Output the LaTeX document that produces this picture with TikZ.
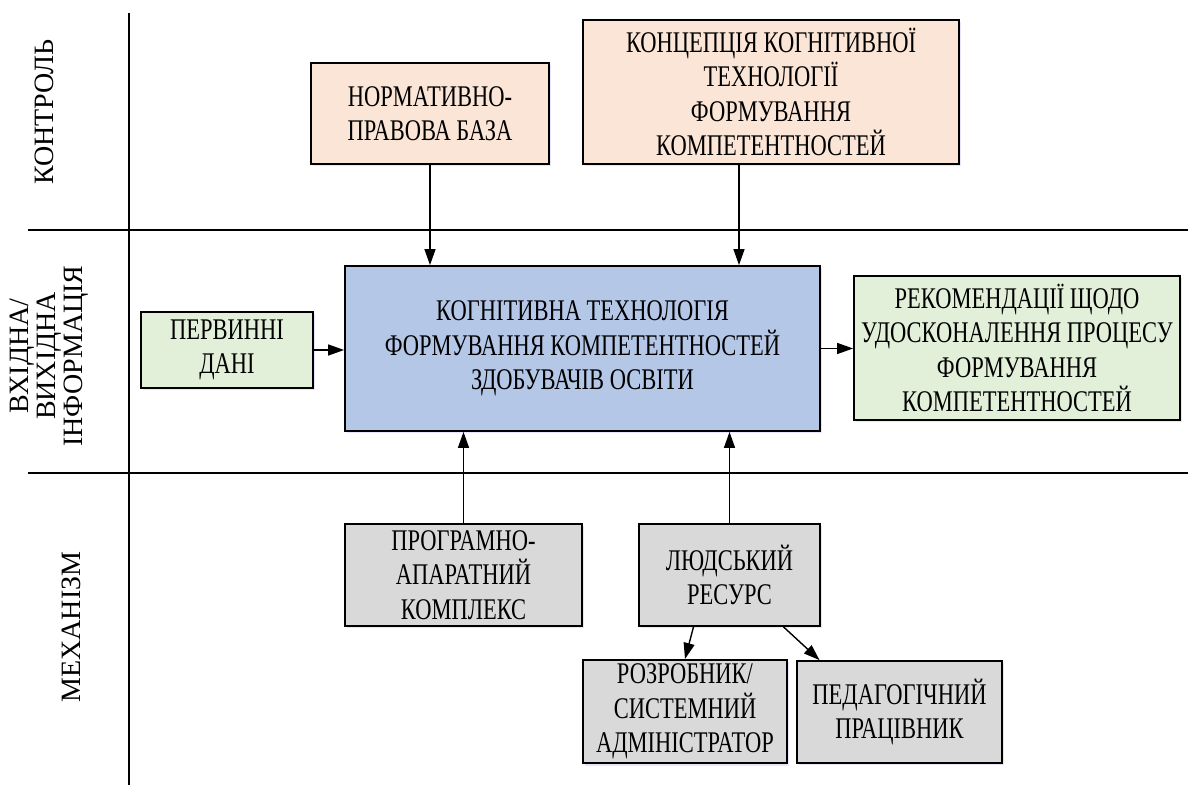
\documentclass[tikz,border=0pt]{standalone}
\usepackage{fontspec}
\setmainfont{Liberation Serif}
\newfontfamily\vuzkyj{Liberation Serif}[FakeStretch=0.75]
\usetikzlibrary{arrows.meta,shadows}
\definecolor{kontrol}{HTML}{FBE5D6}
\definecolor{vhidna}{HTML}{E2F0D9}
\definecolor{tehn}{HTML}{B4C7E7}
\definecolor{mehan}{HTML}{D9D9D9}
\tikzset{
	blok/.style={draw, line width=0.9pt, align=center, inner sep=2pt,
		font=\vuzkyj\fontsize{15}{17.25}\selectfont,
		drop shadow={shadow xshift=0.8pt, shadow yshift=-1.2pt, fill=blue!40, opacity=0.25}},
	strilka/.style={-{Triangle[length=8pt,width=5.5pt]}, line width=0.7pt},
	zona/.style={rotate=90, align=center, font=\fontsize{14}{13.5}\selectfont}
}
\begin{document}
\begin{tikzpicture}[x=0.5pt, y=-0.5pt]
						\useasboundingbox (0,0) rectangle (1188,785);
						\draw[line width=0.65pt] (129,13) -- (129,785);
						\draw[line width=0.65pt] (28,230) -- (1188,230);
						\draw[line width=0.65pt] (28,473) -- (1188,473);
						\node[zona] (zk) at (44,112) {КОНТРОЛЬ};
						\node[zona] (zv) at (49,356) {ВХІДНА/\\ВИХІДНА\\ІНФОРМАЦІЯ};
						\node[zona] (zm) at (71,627) {МЕХАНІЗМ};
						\node[blok, fill=kontrol, minimum width=119pt, minimum height=50.5pt] (norm) at (430,113.5) {НОРМАТИВНО-\\ПРАВОВА БАЗА};
						\node[blok, fill=kontrol, minimum width=188pt, minimum height=72pt] (konc) at (771,92) {КОНЦЕПЦІЯ КОГНІТИВНОЇ\\ТЕХНОЛОГІЇ\\ФОРМУВАННЯ\\КОМПЕТЕНТНОСТЕЙ};
						\node[blok, fill=tehn, minimum width=237.5pt, minimum height=82.5pt] (kt) at (582.5,348.5) {КОГНІТИВНА ТЕХНОЛОГІЯ\\ФОРМУВАННЯ КОМПЕТЕНТНОСТЕЙ\\ЗДОБУВАЧІВ ОСВІТИ};
						\node[blok, fill=vhidna, minimum width=86pt, minimum height=38pt] (pd) at (227,350) {ПЕРВИННІ\\ДАНІ};
						\node[blok, fill=vhidna, minimum width=163pt, minimum height=72pt] (rek) at (1017,348) {РЕКОМЕНДАЦІЇ ЩОДО\\УДОСКОНАЛЕННЯ ПРОЦЕСУ\\ФОРМУВАННЯ\\КОМПЕТЕНТНОСТЕЙ};
						\node[blok, fill=mehan, minimum width=118.5pt, minimum height=51pt] (pak) at (463.5,575) {ПРОГРАМНО-\\АПАРАТНИЙ\\КОМПЛЕКС};
						\node[blok, fill=mehan, minimum width=90.5pt, minimum height=51pt] (lr) at (729.5,575) {ЛЮДСЬКИЙ\\РЕСУРС};
						\node[blok, fill=mehan, minimum width=102pt, minimum height=50.5pt] (roz) at (685,711.5) {РОЗРОБНИК/\\СИСТЕМНИЙ\\АДМІНІСТРАТОР};
						\node[blok, fill=mehan, minimum width=102.5pt, minimum height=51pt] (ped) at (899.5,712) {ПЕДАГОГІЧНИЙ\\ПРАЦІВНИК};
						\draw[strilka] (norm.south) -- (norm.south |- kt.north);
						\draw[strilka] ([xshift=-16pt]konc.south) -- ([xshift=-16pt]konc.south |- kt.north);
						\draw[strilka] (pd.east) -- (pd.east -| kt.west);
						\draw[strilka] (kt.east) -- (kt.east -| rek.west);
						\draw[strilka] (pak.north) -- (pak.north |- kt.south);
						\draw[strilka] (lr.north) -- (lr.north |- kt.south);
						\draw[strilka] ([xshift=-18pt]lr.south) -- (roz.north);
						\draw[strilka] ([xshift=27pt]lr.south) -- ([xshift=-40pt]ped.north);
				\end{tikzpicture}
\end{document}
